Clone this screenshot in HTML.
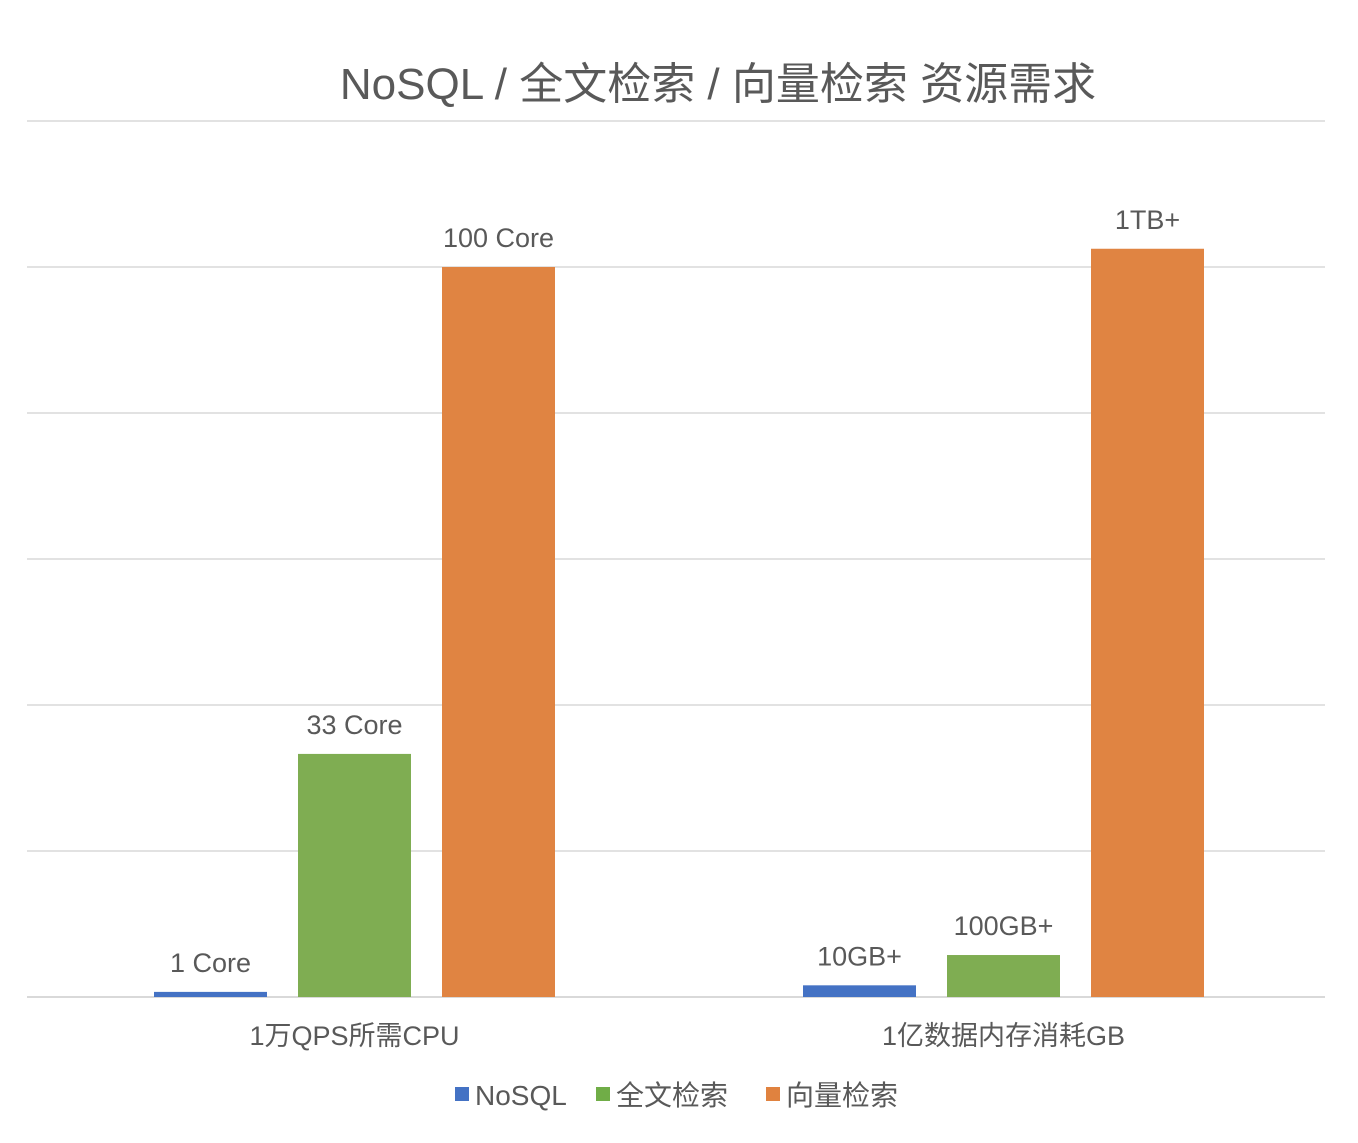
<!DOCTYPE html>
<html><head><meta charset="utf-8"><style>
body{margin:0;background:#fff;}
svg text{font-family:"Liberation Sans","Noto Sans CJK SC",sans-serif;fill:#595959;}
</style></head><body>
<svg id="chart" width="1358" height="1138" xmlns="http://www.w3.org/2000/svg">
<text x="718" y="99" font-size="44" text-anchor="middle">NoSQL / 全文检索 / 向量检索 资源需求</text>
<g id="grid"></g>
<g id="bars"></g>
<g id="legend"></g>
</svg>
<script>
const categories = ["1万QPS所需CPU", "1亿数据内存消耗GB"];
const seriesNames = ["NoSQL", "全文检索", "向量检索"];
const nosqlValues = [0.7, 1.6];
const fulltextValues = [33.3, 5.75];
const vectorValues = [100, 102.5];
const nosqlLabels = ["1 Core", "10GB+"];
const fulltextLabels = ["33 Core", "100GB+"];
const vectorLabels = ["100 Core", "1TB+"];
const gridTicks = [0, 20, 40, 60, 80, 100, 120];

const colors = ["#4472c4", "#70ad47", "#e0823f"];
const colorsBar = ["#4472c4", "#7fad52", "#e08442"];
const svgNS = "http://www.w3.org/2000/svg";
const x0 = 27, x1 = 1325, y0 = 997, pxPerUnit = 7.3;
const yScale = v => y0 - v * pxPerUnit;
const groupW = (x1 - x0) / categories.length;
const groupCenter = i => x0 + groupW * (i + 0.5) + 3;
const barW = 113, barStep = 144;

const grid = document.getElementById('grid');
gridTicks.forEach(t => {
  const l = document.createElementNS(svgNS, 'line');
  
  
  l.setAttribute('x1', x0); l.setAttribute('x2', x1);
  l.setAttribute('y1', yScale(t)); l.setAttribute('y2', yScale(t));
  l.setAttribute('stroke', '#d9d9d9'); l.setAttribute('stroke-width', t === 0 ? 2 : 1.5);
  grid.appendChild(l);
});

const series = [nosqlValues, fulltextValues, vectorValues];
const labels = [nosqlLabels, fulltextLabels, vectorLabels];
const bars = document.getElementById('bars');
categories.forEach((c, i) => {
  const cx = groupCenter(i);
  series.forEach((vals, s) => {
    const bx = cx + (s - 1) * barStep - barW / 2;
    const r = document.createElementNS(svgNS, 'rect');
    
    
    r.setAttribute('x', bx); r.setAttribute('width', barW);
    r.setAttribute('y', yScale(vals[i])); r.setAttribute('height', y0 - yScale(vals[i]));
    r.setAttribute('fill', colorsBar[s]);
    bars.appendChild(r);
    const t = document.createElementNS(svgNS, 'text');
    
    
    t.setAttribute('x', bx + barW / 2); t.setAttribute('y', yScale(vals[i]) - 20);
    t.setAttribute('text-anchor', 'middle'); t.setAttribute('font-size', '27');
    t.textContent = labels[s][i];
    bars.appendChild(t);
  });
  const ct = document.createElementNS(svgNS, 'text');
  
  
  ct.setAttribute('x', cx); ct.setAttribute('y', 1045);
  ct.setAttribute('text-anchor', 'middle'); ct.setAttribute('font-size', '27');
  ct.textContent = c;
  bars.appendChild(ct);
});

const legend = document.getElementById('legend');
const legendX = [455, 596, 766];
seriesNames.forEach((n, s) => {
  const r = document.createElementNS(svgNS, 'rect');
  
  
  r.setAttribute('x', legendX[s]); r.setAttribute('y', 1087);
  r.setAttribute('width', 14); r.setAttribute('height', 14);
  r.setAttribute('fill', colors[s]);
  legend.appendChild(r);
  const t = document.createElementNS(svgNS, 'text');
  
  
  t.setAttribute('x', legendX[s] + 20); t.setAttribute('y', 1105);
  t.setAttribute('font-size', '28');
  t.textContent = n;
  legend.appendChild(t);
});
</script>
</body></html>
